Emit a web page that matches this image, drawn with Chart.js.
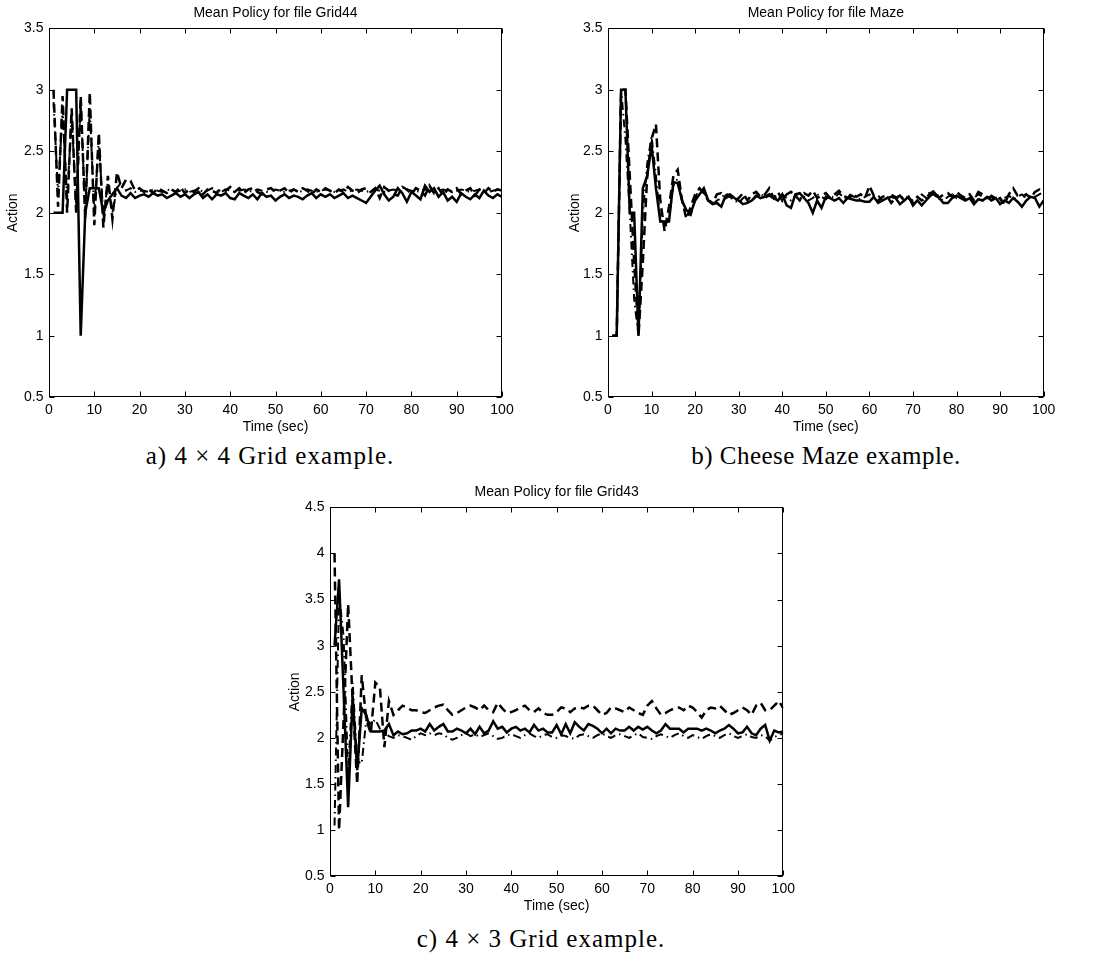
<!DOCTYPE html>
<html>
<head>
<meta charset="utf-8">
<script src="https://cdn.jsdelivr.net/npm/chart.js"></script>
<style>
  body { margin: 0; background: #fff; }
  #page { position: relative; width: 1102px; height: 956px; overflow: hidden; }
  canvas { position: absolute; }
  .caption {
    position: absolute;
    font-family: "Liberation Serif", "Times New Roman", serif;
    font-size: 25px;
    line-height: 25px;
    letter-spacing: 1px;
    white-space: nowrap;
    transform: translateX(-50%);
    color: #000;
  }
</style>
</head>
<body>
<div id="page">
  <canvas id="chartGrid44" width="514" height="438" style="left:0px; top:0px;"></canvas>
  <canvas id="chartMaze" width="497" height="438" style="left:559px; top:0px;"></canvas>
  <canvas id="chartGrid43" width="514" height="438" style="left:281px; top:479px;"></canvas>
  <div class="caption" style="left:270px; top:443px;">a) 4 &times; 4 Grid example.</div>
  <div class="caption" style="left:826px; top:443px; letter-spacing:0.5px;">b) Cheese Maze example.</div>
  <div class="caption" style="left:541px; top:926px;">c) 4 &times; 3 Grid example.</div>
</div>
<script>
// time steps (sec)
var timeSec = [1,2,3,4,5,6,7,8,9,10,11,12,13,14,15,16,17,18,19,20,
  21,22,23,24,25,26,27,28,29,30,31,32,33,34,35,36,37,38,39,40,
  41,42,43,44,45,46,47,48,49,50,51,52,53,54,55,56,57,58,59,60,
  61,62,63,64,65,66,67,68,69,70,71,72,73,74,75,76,77,78,79,80,
  81,82,83,84,85,86,87,88,89,90,91,92,93,94,95,96,97,98,99,100];

var xTicks = [0, 10, 20, 30, 40, 50, 60, 70, 80, 90, 100];

// a) Grid44
var grid44Solid = [2, 2, 2, 3, 3, 3, 1, 2.0, 2.2, 2.2,
  2.2, 2.0, 2.1, 2.15, 2.2, 2.14, 2.12, 2.16, 2.12, 2.14,
  2.15, 2.13, 2.16, 2.14, 2.15, 2.12, 2.14, 2.16, 2.13, 2.15,
  2.12, 2.15, 2.17, 2.12, 2.15, 2.11, 2.15, 2.14, 2.16, 2.12,
  2.11, 2.16, 2.14, 2.12, 2.15, 2.11, 2.16, 2.13, 2.14, 2.10,
  2.13, 2.15, 2.12, 2.14, 2.13, 2.11, 2.14, 2.16, 2.12, 2.15,
  2.13, 2.15, 2.12, 2.14, 2.16, 2.12, 2.14, 2.12, 2.10, 2.08,
  2.13, 2.18, 2.22, 2.15, 2.10, 2.13, 2.20, 2.16, 2.09, 2.17,
  2.14, 2.11, 2.22, 2.17, 2.20, 2.13, 2.17, 2.10, 2.13, 2.09,
  2.16, 2.13, 2.11, 2.15, 2.12, 2.18, 2.14, 2.12, 2.15, 2.13];
var grid44Dash = [3.0, 2.05, 2.95, 2.0, 2.85, 2.0, 2.95, 1.95, 2.98, 1.9,
  2.65, 1.88, 2.3, 1.95, 2.33, 2.2, 2.27, 2.26, 2.18, 2.2,
  2.17, 2.19, 2.16, 2.2, 2.18, 2.16, 2.19, 2.17, 2.21, 2.16,
  2.19, 2.17, 2.2, 2.15, 2.19, 2.18, 2.16, 2.2, 2.18, 2.21,
  2.17, 2.2, 2.16, 2.19, 2.2, 2.17, 2.15, 2.19, 2.2, 2.17,
  2.18, 2.2, 2.16, 2.19, 2.17, 2.2, 2.18, 2.15, 2.19, 2.17,
  2.2, 2.18, 2.16, 2.19, 2.17, 2.21, 2.18, 2.16, 2.19, 2.2,
  2.17, 2.2, 2.12, 2.21, 2.18, 2.15, 2.14, 2.21, 2.19, 2.15,
  2.2, 2.18, 2.14, 2.22, 2.16, 2.2, 2.14, 2.19, 2.17, 2.2,
  2.15, 2.18, 2.2, 2.14, 2.19, 2.16, 2.2, 2.17, 2.19, 2.18];
var grid44DashDot = [2.9, 2.15, 2.85, 2.1, 2.8, 2.05, 2.9, 2.0, 2.85, 2.0,
  2.6, 1.95, 2.25, 2.0, 2.2, 2.25, 2.18, 2.2, 2.17, 2.18,
  2.18, 2.17, 2.19, 2.18, 2.17, 2.19, 2.18, 2.17, 2.18, 2.19,
  2.17, 2.18, 2.19, 2.17, 2.18, 2.2, 2.18, 2.17, 2.19, 2.18,
  2.17, 2.18, 2.19, 2.18, 2.17, 2.19, 2.18, 2.17, 2.18, 2.19,
  2.18, 2.17, 2.18, 2.19, 2.18, 2.17, 2.19, 2.18, 2.17, 2.18,
  2.19, 2.18, 2.17, 2.18, 2.19, 2.17, 2.18, 2.19, 2.18, 2.17,
  2.18, 2.19, 2.18, 2.17, 2.18, 2.19, 2.18, 2.17, 2.19, 2.18,
  2.17, 2.18, 2.19, 2.18, 2.17, 2.18, 2.19, 2.18, 2.17, 2.18,
  2.19, 2.18, 2.17, 2.18, 2.19, 2.18, 2.17, 2.18, 2.19, 2.18];
var grid44YTicks = [0.5, 1, 1.5, 2, 2.5, 3, 3.5];

// b) Cheese Maze
var mazeSolid = [1, 1, 3, 3, 2, 2, 1, 2.2, 2.3, 2.55,
  2.2, 1.93, 1.93, 1.93, 2.25, 2.24, 2.1, 2.02, 2.0, 2.1,
  2.15, 2.2, 2.1, 2.07, 2.08, 2.05, 2.14, 2.15, 2.12, 2.1,
  2.07, 2.08, 2.1, 2.14, 2.12, 2.13, 2.15, 2.12, 2.1, 2.15,
  2.06, 2.04, 2.15, 2.16, 2.12, 2.08, 2.0, 2.1, 2.04, 2.13,
  2.12, 2.1, 2.12, 2.08, 2.12, 2.11, 2.1, 2.1, 2.09, 2.09,
  2.13, 2.08, 2.1, 2.12, 2.13, 2.12, 2.07, 2.1, 2.13, 2.06,
  2.1, 2.06, 2.1, 2.14, 2.16, 2.12, 2.08, 2.08, 2.12, 2.14,
  2.12, 2.1, 2.12, 2.07, 2.11, 2.1, 2.13, 2.1, 2.12, 2.07,
  2.1, 2.08, 2.12, 2.09, 2.05, 2.1, 2.13, 2.12, 2.05, 2.1];
var mazeDash = [1, 1, 3, 3, 2.3, 1.6, 1.0, 1.6, 2.3, 2.6,
  2.72, 2.1, 1.85, 2.05, 2.3, 2.35, 2.1, 1.95, 2.05, 2.15,
  2.2, 2.16, 2.1, 2.08, 2.15, 2.16, 2.12, 2.14, 2.1, 2.12,
  2.16, 2.1, 2.15, 2.17, 2.13, 2.15, 2.2, 2.12, 2.17, 2.1,
  2.15, 2.17, 2.14, 2.1, 2.16, 2.14, 2.18, 2.12, 2.14, 2.16,
  2.12, 2.15, 2.18, 2.14, 2.12, 2.16, 2.13, 2.15, 2.12, 2.22,
  2.14, 2.1, 2.13, 2.14, 2.08, 2.12, 2.14, 2.1, 2.12, 2.08,
  2.13, 2.1, 2.12, 2.16, 2.18, 2.12, 2.15, 2.16, 2.13, 2.17,
  2.14, 2.12, 2.15, 2.1, 2.17, 2.15, 2.12, 2.13, 2.1, 2.12,
  2.07, 2.15, 2.2, 2.14, 2.13, 2.15, 2.12, 2.17, 2.19, 2.16];
var mazeDashDot = [1, 1, 3, 2.6, 2.0, 1.3, 1.0, 2.0, 2.4, 2.62,
  2.3, 1.95, 1.9, 1.95, 2.22, 2.28, 2.1, 2.0, 1.98, 2.12,
  2.2, 2.16, 2.12, 2.07, 2.1, 2.12, 2.16, 2.13, 2.1, 2.08,
  2.12, 2.14, 2.1, 2.13, 2.16, 2.12, 2.14, 2.11, 2.13, 2.15,
  2.12, 2.1, 2.14, 2.16, 2.13, 2.1, 2.12, 2.15, 2.13, 2.11,
  2.14, 2.12, 2.16, 2.13, 2.1, 2.14, 2.12, 2.11, 2.13, 2.15,
  2.12, 2.14, 2.1, 2.12, 2.15, 2.13, 2.11, 2.14, 2.12, 2.1,
  2.13, 2.15, 2.12, 2.18, 2.14, 2.12, 2.1, 2.13, 2.15, 2.12,
  2.14, 2.11, 2.13, 2.12, 2.15, 2.13, 2.11, 2.14, 2.12, 2.1,
  2.12, 2.14, 2.11, 2.13, 2.15, 2.12, 2.14, 2.13, 2.15, 2.17];
var mazeYTicks = [0.5, 1, 1.5, 2, 2.5, 3, 3.5];

// c) Grid43
var grid43Solid = [3.0, 3.72, 2.5, 1.25, 2.45, 1.65, 2.32, 2.25, 2.07, 2.07,
  2.07, 2.08, 2.15, 2.03, 2.07, 2.04, 2.05, 2.08, 2.08, 2.1,
  2.07, 2.15, 2.08, 2.12, 2.15, 2.07, 2.07, 2.1, 2.08, 2.05,
  2.1, 2.04, 2.12, 2.05, 2.08, 2.18, 2.1, 2.12, 2.06, 2.1,
  2.12, 2.08, 2.1, 2.06, 2.14, 2.08, 2.1, 2.06, 2.06, 2.14,
  2.04, 2.15, 2.05, 2.17, 2.12, 2.08, 2.15, 2.13, 2.1, 2.05,
  2.1, 2.05, 2.1, 2.08, 2.08, 2.12, 2.08, 2.12, 2.09, 2.12,
  2.08, 2.05, 2.08, 2.15, 2.1, 2.1, 2.1, 2.06, 2.1, 2.1,
  2.1, 2.08, 2.1, 2.08, 2.05, 2.08, 2.1, 2.14, 2.1, 2.05,
  2.06, 2.12, 2.05, 2.03, 2.1, 2.14, 1.97, 2.08, 2.06, 2.07];
var grid43Dash = [4.0, 1.0, 2.2, 3.45, 2.4, 1.5, 2.68, 2.2, 2.05, 2.6,
  2.55, 1.9, 2.4, 2.25, 2.3, 2.35, 2.33, 2.3, 2.3, 2.28,
  2.27, 2.3, 2.33, 2.35, 2.36, 2.3, 2.25, 2.27, 2.3, 2.33,
  2.35, 2.33, 2.3, 2.35, 2.3, 2.28, 2.38, 2.32, 2.27, 2.28,
  2.3, 2.33, 2.35, 2.3, 2.28, 2.32, 2.27, 2.25, 2.25, 2.28,
  2.33, 2.32, 2.28, 2.32, 2.33, 2.32, 2.35, 2.35, 2.3, 2.25,
  2.27, 2.33, 2.32, 2.3, 2.28, 2.33, 2.3, 2.27, 2.25, 2.35,
  2.4, 2.32, 2.25, 2.27, 2.3, 2.32, 2.33, 2.3, 2.35, 2.33,
  2.28, 2.22, 2.3, 2.33, 2.32, 2.35, 2.3, 2.25, 2.27, 2.3,
  2.33, 2.3, 2.25, 2.35, 2.38, 2.3, 2.3, 2.35, 2.4, 2.32];
var grid43DashDot = [1.05, 3.55, 3.1, 1.6, 2.6, 1.75, 1.72, 2.2, 2.15, 2.2,
  2.1, 2.05, 2.02, 2.0, 2.03, 2.02, 2.0, 1.98, 2.02, 2.05,
  2.03, 2.05, 2.03, 2.05, 2.04, 2.0, 1.98, 2.0, 2.03, 2.05,
  2.02, 2.04, 2.01, 2.03, 2.05, 2.02, 1.99, 2.0, 2.03, 2.04,
  2.02, 2.0, 2.03, 2.05, 2.02, 2.0, 2.03, 2.04, 2.01, 2.0,
  2.03, 2.02, 2.0, 1.99, 2.03, 2.04, 2.02, 2.0, 2.03, 2.05,
  2.02, 2.0, 2.03, 2.04, 2.02, 2.0, 2.03, 2.05, 2.01, 2.0,
  1.99, 2.02, 2.04, 2.02, 2.0, 2.03, 2.05, 2.02, 2.0, 2.03,
  2.01, 1.99, 2.02, 2.04, 2.02, 2.0, 2.03, 2.05, 2.02, 2.0,
  2.02, 2.04, 2.01, 2.0, 2.03, 2.02, 1.97, 2.01, 2.03, 2.05];
var grid43YTicks = [0.5, 1, 1.5, 2, 2.5, 3, 3.5, 4, 4.5];

var fontFamily = '"Liberation Sans", Arial, Helvetica, sans-serif';
Chart.defaults.font.family = fontFamily;
Chart.defaults.color = '#000';

// matlab style box with inward ticks on all four sides
var matlabBox = {
  id: 'matlabBox',
  afterDraw: function(chart) {
    var ctx = chart.ctx;
    var a = chart.chartArea;
    var x = chart.scales.x, y = chart.scales.y;
    var L = Math.round(a.left) + 0.5, R = Math.round(a.right) - 0.5;
    var T = Math.round(a.top) + 0.5, B = Math.round(a.bottom) - 0.5;
    ctx.save();
    ctx.strokeStyle = '#000';
    ctx.lineWidth = 1;
    ctx.setLineDash([]);
    ctx.strokeRect(L, T, R - L, B - T);
    ctx.beginPath();
    x.ticks.forEach(function(t) {
      var px = Math.round(x.getPixelForValue(t.value)) + 0.5;
      ctx.moveTo(px, B); ctx.lineTo(px, B - 5);
      ctx.moveTo(px, T); ctx.lineTo(px, T + 5);
    });
    y.ticks.forEach(function(t) {
      var py = Math.round(y.getPixelForValue(t.value)) + 0.5;
      ctx.moveTo(L, py); ctx.lineTo(L + 5, py);
      ctx.moveTo(R, py); ctx.lineTo(R - 5, py);
    });
    ctx.stroke();
    ctx.restore();
  }
};

function noScalePadding(scale) {
  scale.paddingLeft = 0;
  scale.paddingRight = 0;
  scale.paddingTop = 0;
  scale.paddingBottom = 0;
}

function makeChart(id, title, solid, dash, dashDot, yTicks, padRight, yTitlePad) {
  var ctx = document.getElementById(id).getContext('2d');
  return new Chart(ctx, {
    type: 'line',
    data: {
      labels: timeSec,
      datasets: [
        { data: dashDot, borderColor: '#000', borderWidth: 2, borderDash: [8, 4, 1.5, 4] },
        { data: dash, borderColor: '#000', borderWidth: 2.5, borderDash: [9, 5] },
        { data: solid, borderColor: '#000', borderWidth: 2.5 }
      ]
    },
    options: {
      responsive: false,
      animation: false,
      events: [],
      elements: { point: { radius: 0 }, line: { tension: 0, fill: false } },
      layout: { padding: { left: 0, right: padRight, top: 0, bottom: 0 } },
      plugins: {
        legend: { display: false },
        tooltip: { enabled: false },
        title: {
          display: true,
          text: title,
          color: '#000',
          fullSize: false,
          font: { size: 14, weight: 'normal' },
          padding: { top: 4.4, bottom: 7.1 }
        }
      },
      scales: {
        x: {
          type: 'linear',
          min: 0,
          max: 100,
          afterBuildTicks: function(scale) { scale.ticks = xTicks.map(function(v) { return { value: v }; }); },
          afterFit: function(scale) { scale.height = 40.7; noScalePadding(scale); },
          grid: { display: false, drawTicks: false },
          border: { display: false },
          ticks: { padding: 4.3, maxRotation: 0, autoSkip: false, font: { size: 14 }, color: '#000',
            callback: function(v) { return String(v); } },
          title: { display: true, text: 'Time (sec)', font: { size: 14 }, color: '#000', padding: { top: 0, bottom: 2.6 } }
        },
        y: {
          min: yTicks[0],
          max: yTicks[yTicks.length - 1],
          afterBuildTicks: function(scale) { scale.ticks = yTicks.map(function(v) { return { value: v }; }); },
          afterFit: function(scale) { scale.width = 49; noScalePadding(scale); },
          grid: { display: false, drawTicks: false },
          border: { display: false },
          ticks: { padding: 5.5, font: { size: 14 }, color: '#000',
            callback: function(v) { return String(v); } },
          title: { display: true, text: 'Action', font: { size: 14 }, color: '#000', padding: { top: yTitlePad, bottom: 0 } }
        }
      }
    },
    plugins: [matlabBox]
  });
}

var chartA = makeChart('chartGrid44', 'Mean Policy for file Grid44', grid44Solid, grid44Dash, grid44DashDot, grid44YTicks, 12, 4.6);
var chartB = makeChart('chartMaze', 'Mean Policy for file Maze', mazeSolid, mazeDash, mazeDashDot, mazeYTicks, 12.3, 7.6);
var chartC = makeChart('chartGrid43', 'Mean Policy for file Grid43', grid43Solid, grid43Dash, grid43DashDot, grid43YTicks, 11.7, 5.6);
</script>
</body>
</html>
